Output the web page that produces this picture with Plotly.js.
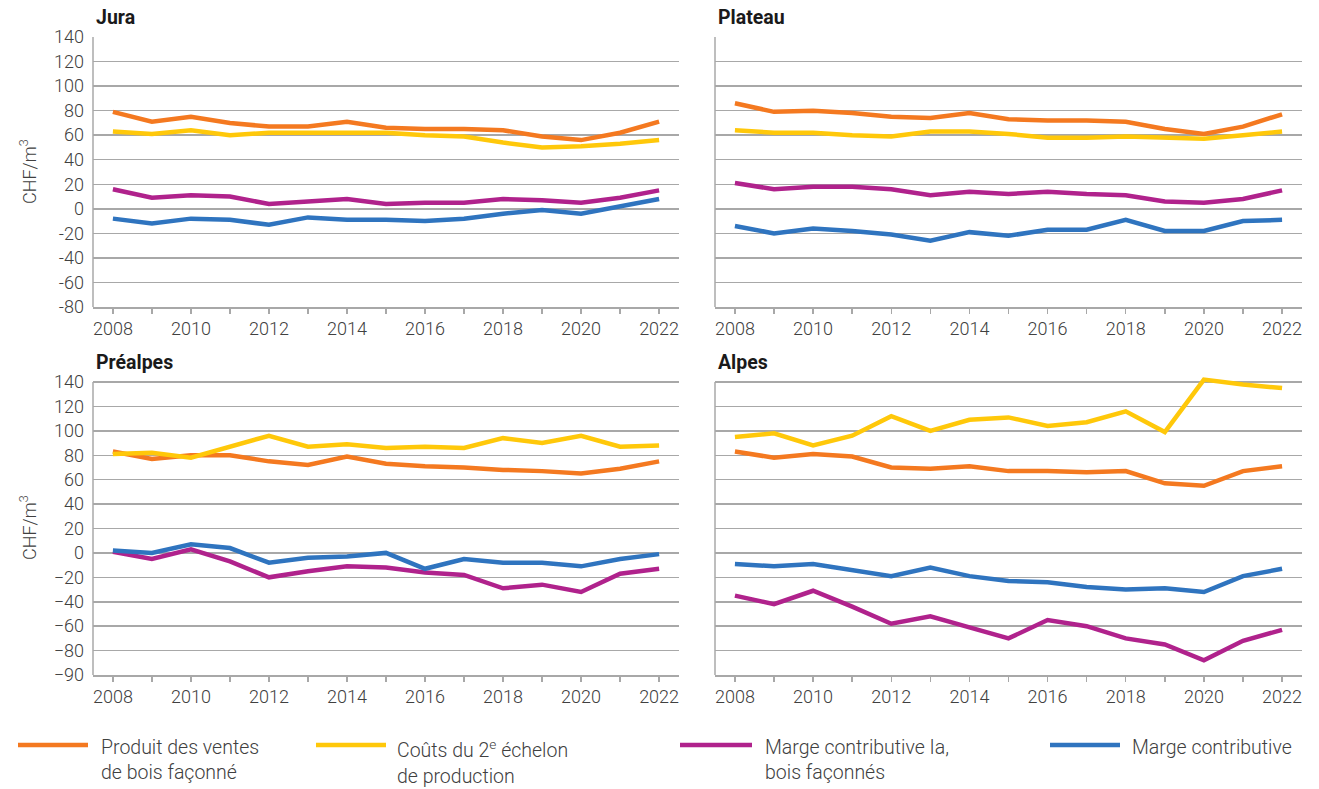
<!DOCTYPE html>
<html>
<head>
<meta charset="utf-8">
<script src="https://cdn.plot.ly/plotly-3.0.1.min.js"></script>
<style>html,body{margin:0;padding:0;background:#fff;}#chart{width:1319px;height:789px;}</style>
</head>
<body>
<div id="chart"></div>
<script>
// ---- data ----
const years = [2008, 2009, 2010, 2011, 2012, 2013, 2014, 2015, 2016, 2017, 2018, 2019, 2020, 2021, 2022];

const seriesNames = ["Produit des ventes de bois façonné", "Coûts du 2e échelon de production", "Marge contributive Ia, bois façonnés", "Marge contributive"];
const legendLabels = ["Produit des ventes<br>de bois façonné", "Coûts du 2<sup>e</sup> échelon<br>de production", "Marge contributive Ia,<br>bois façonnés", "Marge contributive"];
const panelTitles = ["Jura", "Plateau", "Préalpes", "Alpes"];

const juraProduit = [79, 71, 75, 70, 67, 67, 71, 66, 65, 65, 64, 59, 56, 62, 71];
const juraCouts   = [63, 61, 64, 60, 62, 62, 62, 62, 60, 59, 54, 50, 51, 53, 56];
const juraMargeIa = [16, 9, 11, 10, 4, 6, 8, 4, 5, 5, 8, 7, 5, 9, 15];
const juraMarge   = [-8, -12, -8, -9, -13, -7, -9, -9, -10, -8, -4, -1, -4, 2, 8];

const plateauProduit = [86, 79, 80, 78, 75, 74, 78, 73, 72, 72, 71, 65, 61, 67, 77];
const plateauCouts   = [64, 62, 62, 60, 59, 63, 63, 61, 58, 58, 59, 58, 57, 60, 63];
const plateauMargeIa = [21, 16, 18, 18, 16, 11, 14, 12, 14, 12, 11, 6, 5, 8, 15];
const plateauMarge   = [-14, -20, -16, -18, -21, -26, -19, -22, -17, -17, -9, -18, -18, -10, -9];

const prealpesProduit = [83, 77, 80, 80, 75, 72, 79, 73, 71, 70, 68, 67, 65, 69, 75];
const prealpesCouts   = [81, 82, 78, 87, 96, 87, 89, 86, 87, 86, 94, 90, 96, 87, 88];
const prealpesMargeIa = [1, -5, 3, -7, -20, -15, -11, -12, -16, -18, -29, -26, -32, -17, -13];
const prealpesMarge   = [2, 0, 7, 4, -8, -4, -3, 0, -13, -5, -8, -8, -11, -5, -1];

const alpesProduit = [83, 78, 81, 79, 70, 69, 71, 67, 67, 66, 67, 57, 55, 67, 71];
const alpesCouts   = [95, 98, 88, 96, 112, 100, 109, 111, 104, 107, 116, 99, 142, 138, 135];
const alpesMargeIa = [-35, -42, -31, -44, -58, -52, -61, -70, -55, -60, -70, -75, -88, -72, -63];
const alpesMarge   = [-9, -11, -9, -14, -19, -12, -19, -23, -24, -28, -30, -29, -32, -19, -13];

const topTickVals = [-80, -60, -40, -20, 0, 20, 40, 60, 80, 100, 120, 140];
const topTickText = ["-80", "-60", "-40", "-20", "0", "20", "40", "60", "80", "100", "120", "140"];
const botTickVals = [-100, -80, -60, -40, -20, 0, 20, 40, 60, 80, 100, 120, 140];
const botTickText = ["\u221290", "\u221280", "\u221260", "\u221240", "\u221220", "0", "20", "40", "60", "80", "100", "120", "140"];

const colors = ["#F47920", "#FFC80A", "#B0228C", "#2F74BF"];

// ---- build ----
const W = 1319, H = 789;
const panels = [
  {name: panelTitles[0], data: [juraProduit, juraCouts, juraMargeIa, juraMarge], ax: "", px: [93, 679], top: true},
  {name: panelTitles[1], data: [plateauProduit, plateauCouts, plateauMargeIa, plateauMarge], ax: "2", px: [715, 1302], top: true},
  {name: panelTitles[2], data: [prealpesProduit, prealpesCouts, prealpesMargeIa, prealpesMarge], ax: "3", px: [93, 679], top: false},
  {name: panelTitles[3], data: [alpesProduit, alpesCouts, alpesMargeIa, alpesMarge], ax: "4", px: [715, 1302], top: false}
];

const FONT = "Roboto, 'Noto Sans', sans-serif";
const tickColor = "#404040";
const gridColor = "#a8a8a8";

const traces = [];
const layout = {
  width: W, height: H,
  margin: {l: 0, r: 0, t: 0, b: 0},
  paper_bgcolor: "#fff", plot_bgcolor: "#fff",
  showlegend: false,
  font: {family: FONT, size: 18, color: tickColor, weight: 300},
  annotations: [], shapes: []
};

panels.forEach((p, pi) => {
  for (let s = 0; s < 4; s++) {
    traces.push({
      type: "scatter", mode: "lines",
      x: years, y: p.data[s],
      name: seriesNames[s],
      xaxis: "x" + p.ax, yaxis: "y" + p.ax,
      line: {color: colors[s], width: 4.5},
      hoverinfo: "x+y+name"
    });
  }
  const xk = "xaxis" + p.ax, yk = "yaxis" + p.ax;
  let yTopPx, yBotPx, yRange;
  if (p.top) { yTopPx = 37; yBotPx = 307; yRange = [-80, 140]; }
  else {
    const per = (675 - 382) / 240;
    yTopPx = 382 - 6 * per; yBotPx = 675; yRange = [-100, 146];
  }
  layout[xk] = {
    domain: [p.px[0] / W, p.px[1] / W],
    anchor: "y" + p.ax,
    range: [2007.49, 2022.51],
    tickmode: "linear", tick0: 2008, dtick: 2,
    ticks: "outside", ticklen: 5, tickwidth: 1.5, tickcolor: gridColor,
    minor: {dtick: 1, tick0: 2008, ticks: "outside", ticklen: 5, tickwidth: 1.5, tickcolor: gridColor, showgrid: false},
    showgrid: false, zeroline: false,
    showline: true, linecolor: gridColor, linewidth: 1.5,
    tickfont: {family: FONT, size: 18, color: tickColor, weight: 300},
    ticklabelstandoff: 0,
    fixedrange: true
  };
  layout[yk] = {
    domain: [1 - yBotPx / H, 1 - yTopPx / H],
    anchor: "x" + p.ax,
    range: yRange,
    tickmode: "array",
    tickvals: p.top ? topTickVals : botTickVals,
    ticktext: p.top ? topTickText : botTickText,
    ticks: "", showgrid: true, gridcolor: gridColor, gridwidth: 1.5,
    zeroline: false,
    showline: false,
    showticklabels: pi === 0 || pi === 2,
    tickfont: {family: FONT, size: 18, color: tickColor, weight: 300},
    ticklabelstandoff: 8,
    fixedrange: true
  };
  layout.shapes.push({
    type: "line", xref: "x" + p.ax + " domain", yref: "y" + p.ax,
    x0: 0, x1: 0, y0: yRange[0], y1: 140,
    line: {color: gridColor, width: 1.5}
  });
  layout.annotations.push({
    text: "<b>" + p.name + "</b>", xref: "paper", yref: "paper",
    x: (p.px[0] + 1) / W, y: 1 - (p.top ? 18 : 362) / H,
    xanchor: "left", yanchor: "middle", showarrow: false,
    font: {family: FONT, size: 19.5, color: "#1a1a1a", weight: 700}
  });
  if (pi === 0 || pi === 2) {
    layout.annotations.push({
      text: "CHF/m<sup>3</sup>", xref: "paper", yref: "paper",
      x: 28 / W, y: 1 - (p.top ? 172 : 528) / H,
      xanchor: "center", yanchor: "middle", textangle: -90, showarrow: false,
      font: {family: FONT, size: 18, color: tickColor, weight: 300}
    });
  }
});

// manual legend
const legLine = [[18, 88], [316, 386], [680, 752], [1050, 1120]];
const legText = [99, 395, 763, 1130];
for (let s = 0; s < 4; s++) {
  layout.shapes.push({
    type: "line", xref: "paper", yref: "paper",
    x0: legLine[s][0] / W, x1: legLine[s][1] / W,
    y0: 1 - 745 / H, y1: 1 - 745 / H,
    line: {color: colors[s], width: 4.5}
  });
  layout.annotations.push({
    text: legendLabels[s], xref: "paper", yref: "paper",
    x: legText[s] / W, y: 1 - 734 / H,
    xanchor: "left", yanchor: "top", align: "left", showarrow: false,
    font: {family: FONT, size: 19.5, color: tickColor, weight: 300}
  });
}

Plotly.newPlot("chart", traces, layout, {displayModeBar: false, staticPlot: true});
</script>
</body>
</html>
